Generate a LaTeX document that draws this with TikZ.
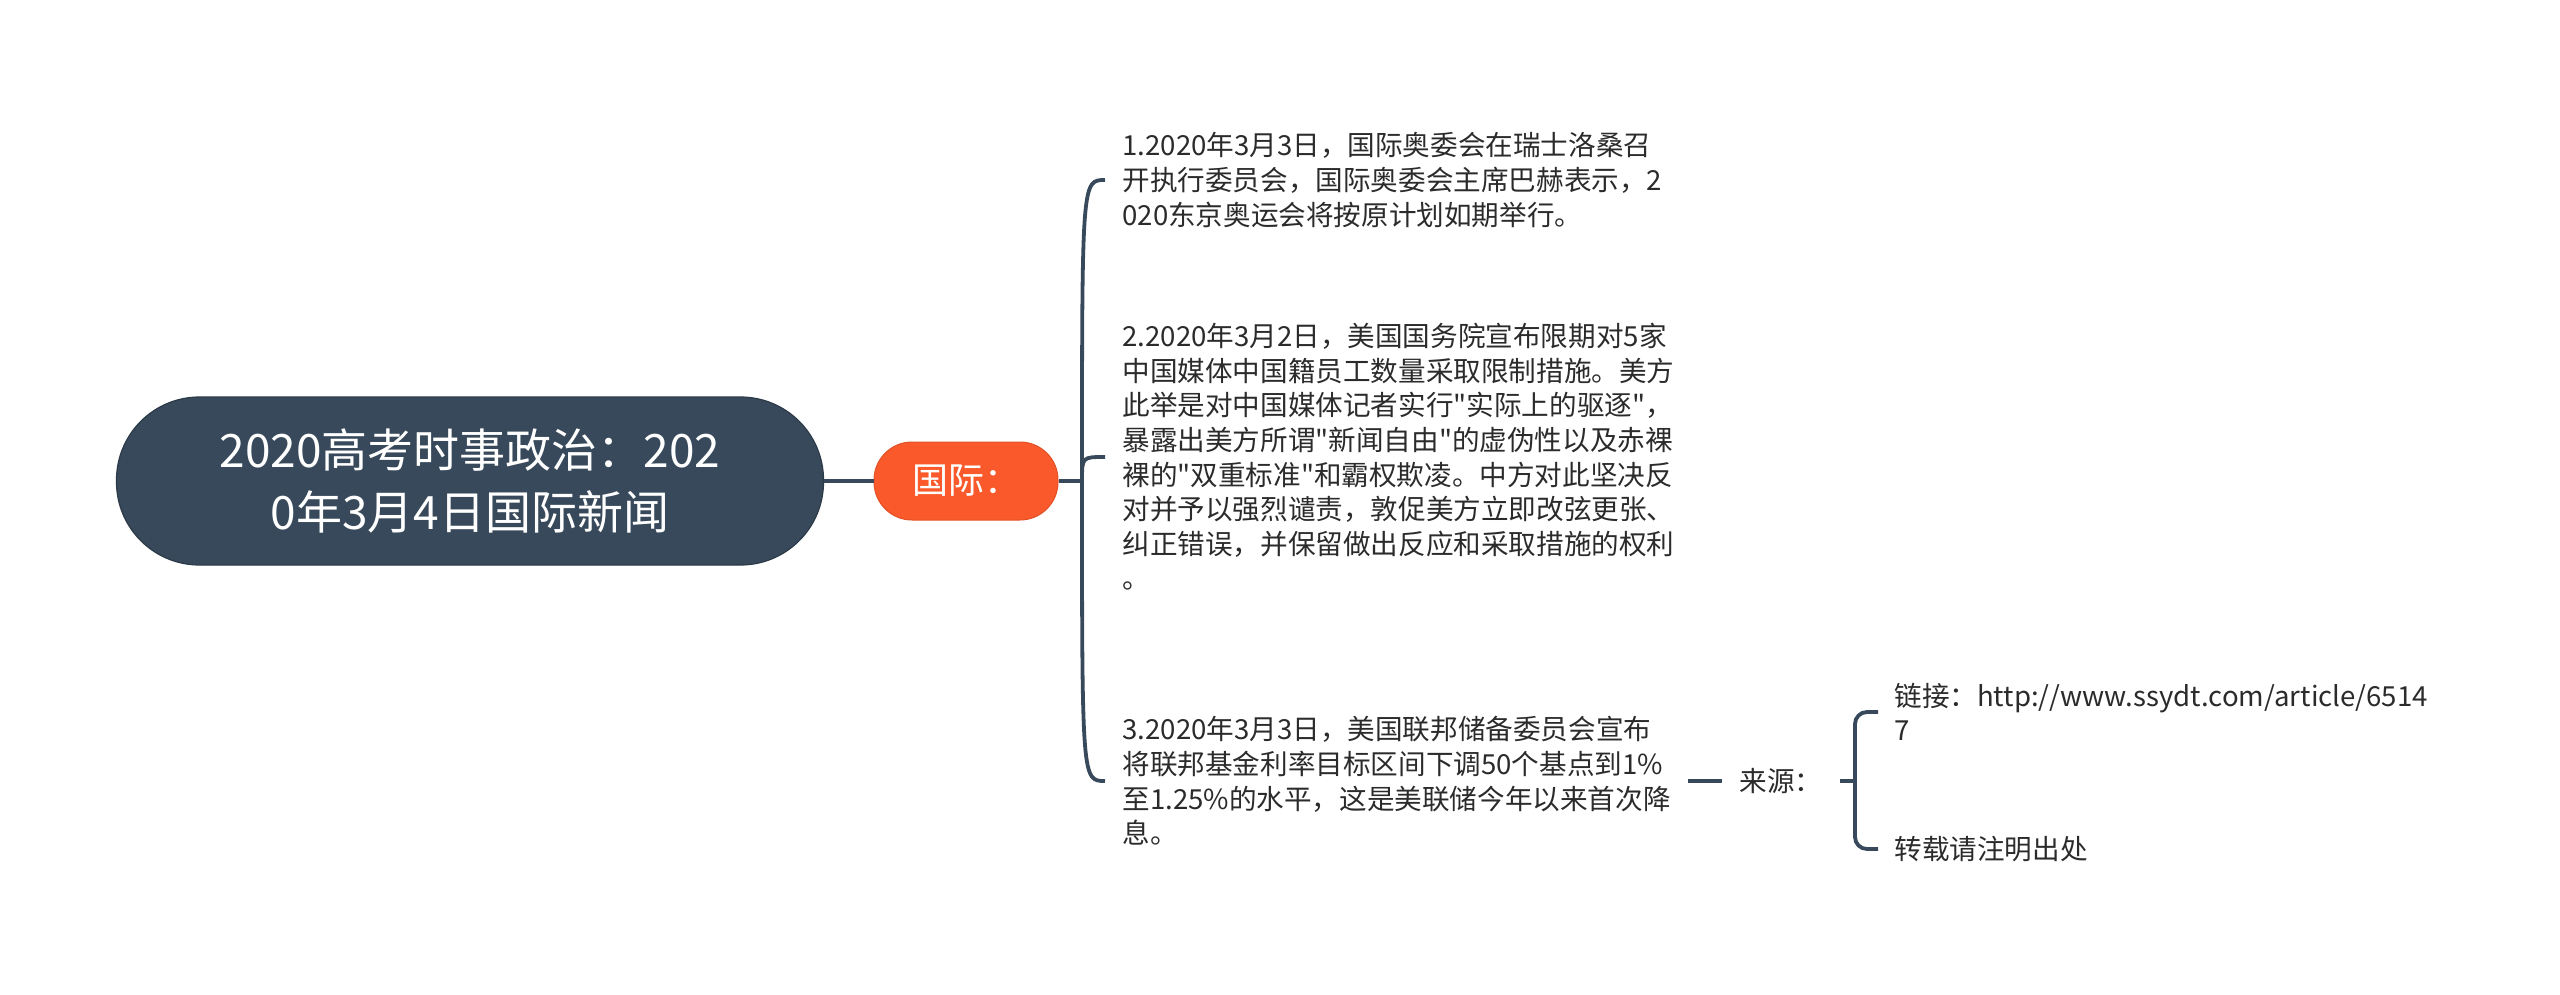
\documentclass[tikz,border=0pt]{standalone}
\usepackage{fontspec}
\setmainfont{Noto Sans CJK SC}[Ligatures=TeXOff]
\usepackage{xcolor}
\usepackage{tikz}

\definecolor{slate}{HTML}{37495A}
\definecolor{tangerine}{HTML}{FA5A2B}
\definecolor{ink}{HTML}{2B2B2B}

\begin{document}
\begin{tikzpicture}[x=0.5pt, y=-0.5pt,
    roottopic/.style={fill=slate, draw=slate!80!black, line width=0.6pt, text=white,
        rounded corners=41.5pt, minimum width=353.5pt, minimum height=84pt,
        align=center, font=\fontsize{23}{31}\selectfont},
    maintopic/.style={fill=tangerine, draw=tangerine!90!black, line width=0.5pt, text=white,
        rounded corners=19pt, minimum width=92pt, minimum height=39pt,
        font=\fontsize{18}{22}\selectfont},
    item/.style={anchor=west, align=left, text=ink, inner xsep=8.5pt, inner ysep=2pt,
        font=\fontsize{13.8}{17.3}\selectfont},
    link/.style={draw=slate, line width=1.9pt}]

    % Canvas
    \useasboundingbox (0,0) rectangle (2560,995);

    % Central topic
    \node[roottopic] (root) at (470,481) {2020高考时事政治：202\\0年3月4日国际新闻};

    % Main topic
    \node[maintopic] (guoji) at (966,481) {国际：};
    \draw[link] (root) -- (guoji);

    % News items
    \node[item] (news1) at (1105,180) {1.2020年3月3日，国际奥委会在瑞士洛桑召\\开执行委员会，国际奥委会主席巴赫表示，2\\020东京奥运会将按原计划如期举行。};
    \node[item] (news2) at (1105,457) {2.2020年3月2日，美国国务院宣布限期对5家\\中国媒体中国籍员工数量采取限制措施。美方\\此举是对中国媒体记者实行"实际上的驱逐"，\\暴露出美方所谓"新闻自由"的虚伪性以及赤裸\\裸的"双重标准"和霸权欺凌。中方对此坚决反\\对并予以强烈谴责，敦促美方立即改弦更张、\\纠正错误，并保留做出反应和采取措施的权利\\。};
    \node[item] (news3) at (1105,781) {3.2020年3月3日，美国联邦储备委员会宣布\\将联邦基金利率目标区间下调50个基点到1\%\\至1.25\%的水平，这是美联储今年以来首次降\\息。};

    % Curved fan to the news items
    \coordinate (fork1) at (1082,481);
    \draw[link] (guoji.east) -- (fork1);
    \foreach \n in {news1, news2, news3} {
        \draw[link] (fork1) .. controls (fork1 |- \n.west) .. (\n.west);
    }

    % Source
    \node[item] (source) at (1722,781) {来源：};
    \draw[link] (news3.east) -- (source.west);

    \node[item, inner xsep=8pt] (weblink) at (1878,712) {链接：http://www.ssydt.com/article/6514\\7};
    \node[item, inner xsep=8pt] (reprint) at (1878,849) {转载请注明出处};

    % Bracket to the source lines
    \coordinate (fork2) at (1855,781);
    \draw[link] (source.east) -- (fork2);
    \foreach \n in {weblink, reprint} {
        \draw[link, rounded corners=6pt] (fork2) |- (\n.west);
    }
\end{tikzpicture}
\end{document}
